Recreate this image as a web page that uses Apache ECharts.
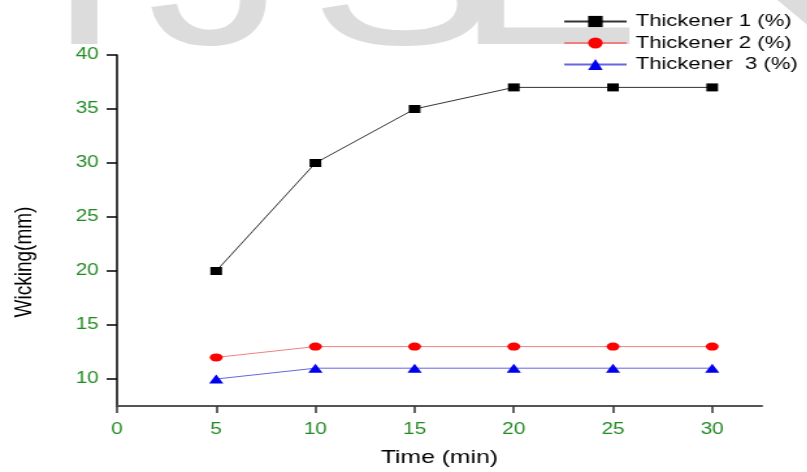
<!DOCTYPE html>
<html>
<head>
<meta charset="utf-8">
<script src="https://cdn.jsdelivr.net/npm/echarts@6/dist/echarts.min.js"></script>
<style>
  html, body { margin: 0; padding: 0; background: #fff; overflow: hidden; }
  /* the source figure is stretched sideways, so draw narrow and stretch */
  #chart { width: 621px; height: 472px; transform: scaleX(1.3); transform-origin: 0 0; }
</style>
</head>
<body>
<div id="chart"></div>
<script>
const time = [5, 10, 15, 20, 25, 30];
const thickener1 = [20, 30, 35, 37, 37, 37];
const thickener2 = [12, 13, 13, 13, 13, 13];
const thickener3 = [10, 11, 11, 11, 11, 11];
const xTicks = [0, 5, 10, 15, 20, 25, 30];
const yTicks = [10, 15, 20, 25, 30, 35, 40];
const names = ['Thickener 1 (%)', 'Thickener 2 (%)', 'Thickener  3 (%)'];

const pairs = (ys) => time.map((t, i) => [t, ys[i]]);
const green = '#238b23';
const font = 'Liberation Sans, Arial, sans-serif';
const wm = '#dcdcdc';

// big grey watermark letters cut off by the top edge
const mark = (ch, x) => ({ type: 'text', z: -10, silent: true, x: x, y: -15,
    style: { text: ch, font: '215px ' + font, fill: wm, verticalAlign: 'middle' } });

let instance = echarts.init(document.getElementById('chart'));
instance.setOption({
    animation: false,
    textStyle: { fontFamily: font },
    grid: { left: 90, top: 55, right: 35, bottom: 62, containLabel: false },
    graphic: [
        mark('I', 35), mark('J', 113), mark('S', 238), mark('E', 350),
        { type: 'polygon', z: -10, silent: true, shape: { points: [[598, 0], [621, 0], [621, 25]] }, style: { fill: wm } },
        { type: 'text', x: 19, y: 262, rotation: Math.PI / 2, silent: true,
          style: { text: 'Wicking(mm)', font: '19px ' + font, fill: '#000', align: 'center', verticalAlign: 'middle' } }
    ],
    legend: {
        orient: 'vertical',
        left: 428,
        top: 8,
        itemWidth: 48,
        itemHeight: 14,
        itemGap: 4.5,
        data: names,
        textStyle: { fontSize: 17, color: '#000', padding: [0, 0, 0, 2] }
    },
    xAxis: {
        type: 'value',
        min: 0,
        max: 32.5,
        name: 'Time (min)',
        nameLocation: 'middle',
        nameGap: 42,
        nameTextStyle: { fontSize: 19, color: '#000' },
        axisLine: { show: true, onZero: false, lineStyle: { color: '#555', width: 2 } },
        axisTick: { show: true, length: 7, customValues: xTicks, lineStyle: { color: '#333', width: 1.5 } },
        axisLabel: { customValues: xTicks, fontSize: 16, color: green, margin: 16 },
        splitLine: { show: false }
    },
    yAxis: {
        type: 'value',
        min: 7.5,
        max: 40,
        axisLine: { show: true, lineStyle: { color: '#000', width: 1.5 } },
        axisTick: { show: true, length: 8, customValues: yTicks, lineStyle: { color: '#000', width: 1.5 } },
        axisLabel: { customValues: yTicks, fontSize: 16, color: green, margin: 14 },
        splitLine: { show: false }
    },
    series: [
        {
            name: names[0], type: 'line', data: pairs(thickener1),
            symbol: 'rect', symbolSize: [9, 8],
            itemStyle: { color: '#000' },
            lineStyle: { color: '#333', width: 1 }
        },
        {
            name: names[1], type: 'line', data: pairs(thickener2),
            symbol: 'circle', symbolSize: [10, 8],
            itemStyle: { color: '#ff0000' },
            lineStyle: { color: '#ee8080', width: 1 }
        },
        {
            name: names[2], type: 'line', data: pairs(thickener3),
            symbol: 'triangle', symbolSize: [11, 9],
            itemStyle: { color: '#0000ee' },
            lineStyle: { color: '#6666dd', width: 1 }
        }
    ]
});
</script>
</body>
</html>
